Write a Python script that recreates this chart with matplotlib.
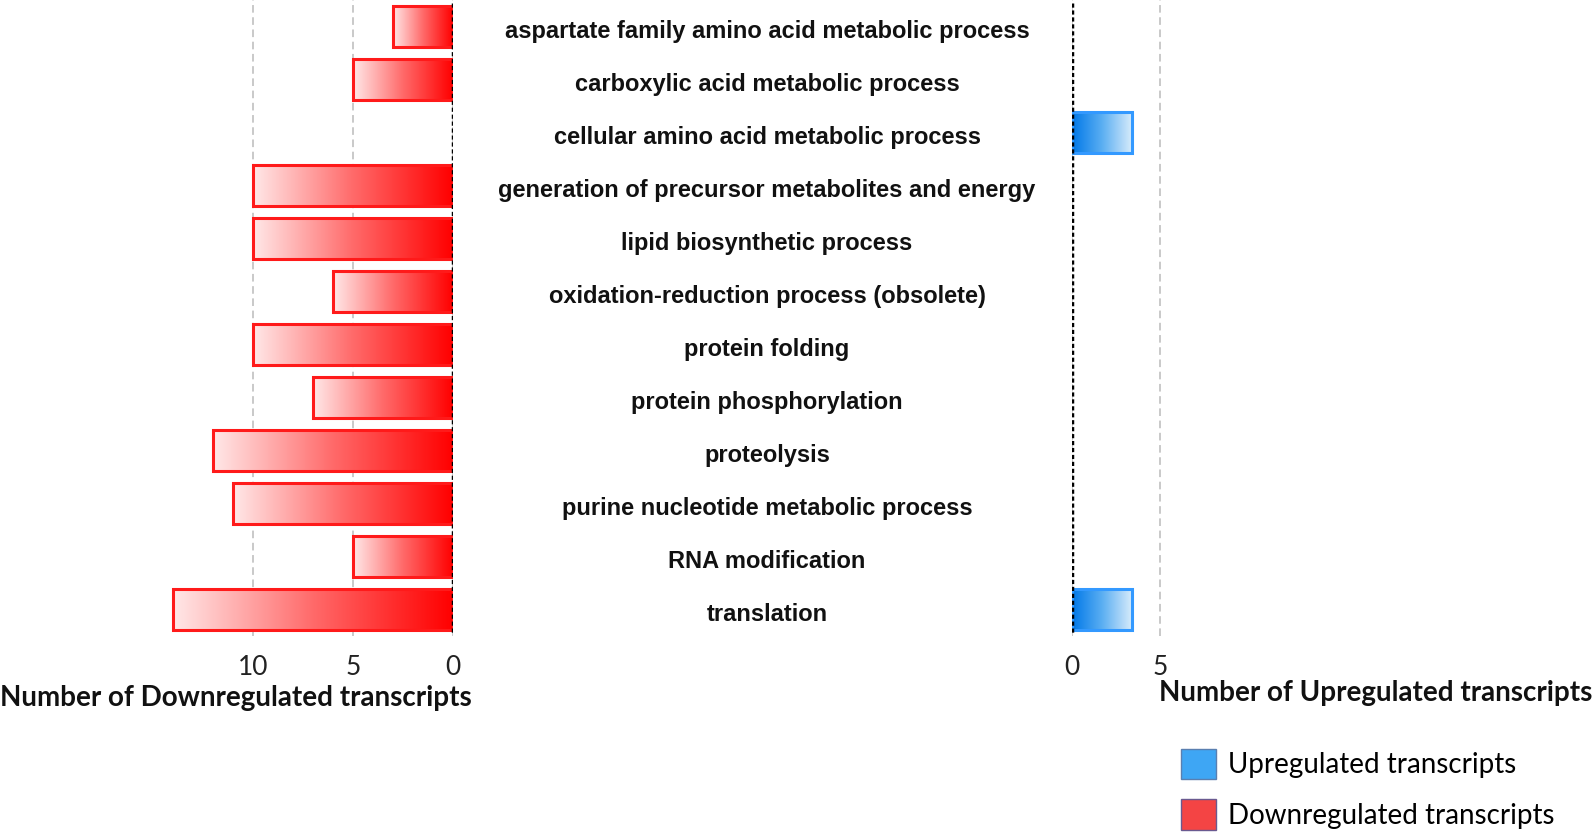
import numpy as np
import matplotlib
matplotlib.use("Agg")
import matplotlib.pyplot as plt
import matplotlib.transforms as mtransforms
from matplotlib.colors import LinearSegmentedColormap
from matplotlib.patches import Patch

# -------- Data --------
categories = [
    "aspartate family amino acid metabolic process",
    "carboxylic acid metabolic process",
    "cellular amino acid metabolic process",
    "generation of precursor metabolites and energy",
    "lipid biosynthetic process",
    "oxidation-reduction process (obsolete)",
    "protein folding",
    "protein phosphorylation",
    "proteolysis",
    "purine nucleotide metabolic process",
    "RNA modification",
    "translation",
]
down_counts = [3, 5, 0, 10, 10, 6, 10, 7, 12, 11, 5, 14]
up_counts = [0, 0, 3.4, 0, 0, 0, 0, 0, 0, 0, 0, 3.4]
down_ticks = [10, 5, 0]
up_ticks = [0, 5]

# -------- Figure --------
W, H = 1594, 840
fig = plt.figure(figsize=(W / 100, H / 100), dpi=100)

def px_axes(x0, x1, y0, y1):
    # pixel box (top-based y) -> axes
    return fig.add_axes([x0 / W, 1 - y1 / H, (x1 - x0) / W, (y1 - y0) / H])

ax_dn = px_axes(0, 453, 0, 636)
ax_up = px_axes(1072, 1170, 0, 636)

red_cmap = LinearSegmentedColormap.from_list("r", ["#ff0000", "#ff6a6a", "#ffe8e8"])
blue_cmap = LinearSegmentedColormap.from_list("b", ["#0078e8", "#5aaef2", "#d6ebfb"])
grad = np.linspace(0, 1, 256).reshape(1, -1)
bar_h = 0.77
n = len(categories)

def draw_bars(ax, values, cmap, edge):
    for i, v in enumerate(values):
        if v <= 0:
            continue
        ax.imshow(grad, cmap=cmap, aspect="auto", interpolation="bicubic",
                  extent=(0, v, i + bar_h / 2, i - bar_h / 2), zorder=2)
        ax.barh(i, v, height=bar_h, left=0, facecolor="none", edgecolor=edge,
                linewidth=2.2, zorder=3)
    ax.plot([0, 0], [-0.45, n - 0.55], color="black", linestyle=(0, (1.2, 0.8)),
            linewidth=2.5, zorder=4)

draw_bars(ax_dn, down_counts, red_cmap, "#ff1a1a")
draw_bars(ax_up, up_counts, blue_cmap, "#3399ff")

ax_dn.set_xlim(22.65, 0)
ax_up.set_xlim(0, 98 / 17.6)
for ax, ticks in [(ax_dn, down_ticks), (ax_up, up_ticks)]:
    ax.set_ylim(n - 0.5, -0.5)
    ax.set_xticks(ticks)
    ax.set_yticks([])
    ax.tick_params(axis="x", length=0, pad=14, labelsize=19, colors="#222222")
    for s in ax.spines.values():
        s.set_visible(False)
    ax.grid(axis="x", color="#bbbbbb", linestyle=(0, (5, 3)), linewidth=1.1, zorder=0)
    ax.set_axisbelow(True)
    for lab in ax.get_xticklabels():
        lab.set_fontfamily("Lato")

# -------- Category labels --------
trans = mtransforms.blended_transform_factory(fig.transFigure, ax_dn.transData)
for i, c in enumerate(categories):
    fig.text(767 / W, i + 0.1, c, transform=trans, ha="center", va="center",
             fontsize=17, fontweight="bold", family="Liberation Sans", color="#111111")

# -------- Axis titles --------
fig.text(0 / W, 1 - 698 / H, "Number of Downregulated transcripts", ha="left", va="center",
         fontsize=20, fontweight="bold", family="Lato", color="#111111")
fig.text(1592 / W, 1 - 693 / H, "Number of Upregulated transcripts", ha="right", va="center",
         fontsize=20, fontweight="bold", family="Lato", color="#111111")

# -------- Legend --------
handles = [
    Patch(facecolor="#3ea6f4", edgecolor="#5a7fb0", label="Upregulated transcripts"),
    Patch(facecolor="#f44444", edgecolor="#6a5a90", label="Downregulated transcripts"),
]
fig.legend(handles=handles, loc="upper left", bbox_to_anchor=(1181 / W, 1 - 749 / H),
           frameon=False, prop={"family": "Lato", "size": 20}, handlelength=1.25,
           handleheight=1.3, handletextpad=0.45, labelspacing=0.72, borderaxespad=0,
           borderpad=0)

fig.savefig("out.png", dpi=100)
